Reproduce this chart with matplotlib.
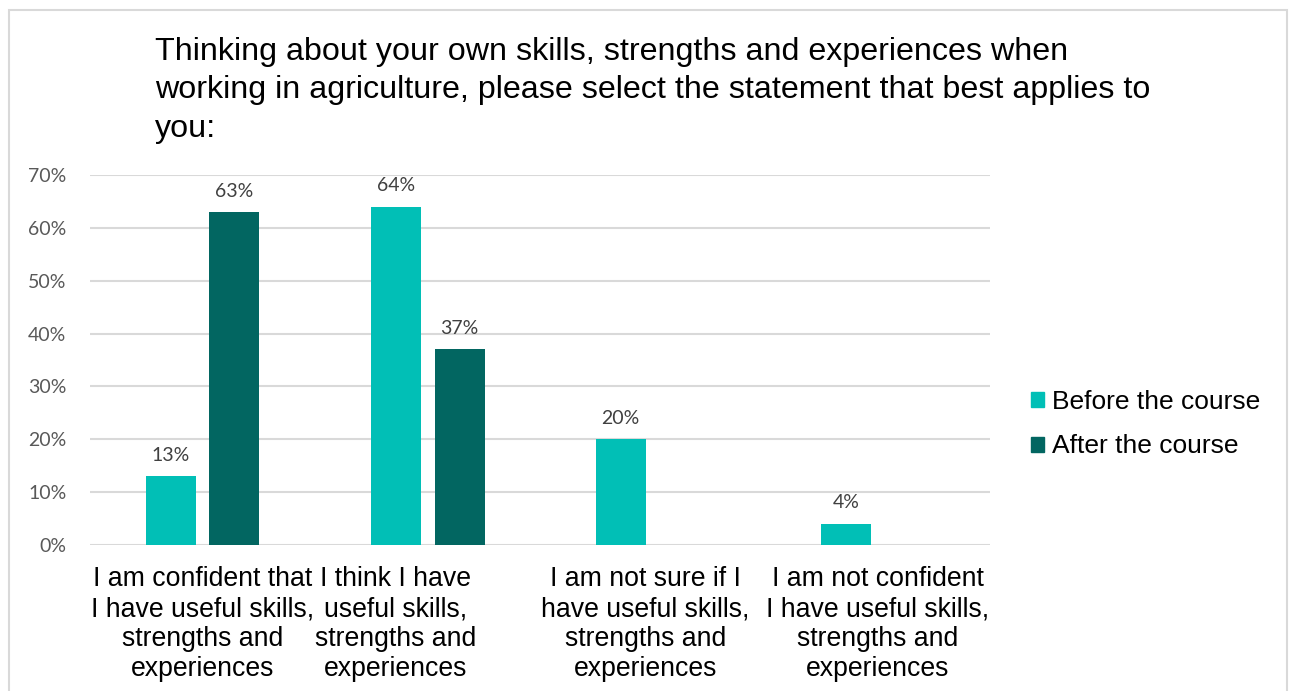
import matplotlib.pyplot as plt
import matplotlib.transforms as mtransforms
from matplotlib.patches import Patch, Rectangle
from matplotlib.ticker import PercentFormatter

# --- Survey data ---
categories = [
    "I am confident that\nI have useful skills,\nstrengths and\nexperiences",
    "I think I have\nuseful skills,\nstrengths and\nexperiences",
    "I am not sure if I\nhave useful skills,\nstrengths and\nexperiences",
    "I am not confident\nI have useful skills,\nstrengths and\nexperiences",
]
before = [13, 64, 20, 4]
after = [63, 37, 0, 0]
series_names = ["Before the course", "After the course"]
title = ("Thinking about your own skills, strengths and experiences when\n"
         "working in agriculture, please select the statement that best applies to\n"
         "you:")

# --- Style ---
BEFORE_COLOR = "#01BFB6"
AFTER_COLOR = "#026661"
GRID_COLOR = "#D9D9D9"
NUM_FONT = ["Lato", "DejaVu Sans"]
TEXT_FONT = ["Liberation Sans", "DejaVu Sans"]
label_shift_pt = [0, -23, -5, 0]  # nudge wrapped category labels sideways

fig = plt.figure(figsize=(12.89, 6.91), dpi=100)
ax = fig.add_axes([0.0698, 0.2113, 0.6984, 0.5354])

bar_w = 0.222
offset = 0.142
xs = list(range(len(categories)))

b1 = ax.bar([x - offset for x in xs], before, width=bar_w, color=BEFORE_COLOR, zorder=3)
b2 = ax.bar([x + offset for x in xs], after, width=bar_w, color=AFTER_COLOR, zorder=3)

# value labels above the bars (skip empty ones)
for bars, vals in ((b1, before), (b2, after)):
    for rect, v in zip(bars, vals):
        if v == 0:
            continue
        ax.annotate(f"{v}%", (rect.get_x() + rect.get_width() / 2, v),
                    xytext=(0, 9), textcoords="offset points",
                    ha="center", va="bottom", fontsize=14,
                    family=NUM_FONT, color="#404040")

ax.set_xlim(-0.5, 3.5)
ax.set_ylim(0, 70)
ax.set_yticks(range(0, 71, 10))
ax.yaxis.set_major_formatter(PercentFormatter(decimals=0))
ax.grid(axis="y", color=GRID_COLOR, linewidth=1.5, zorder=0)
ax.set_axisbelow(True)
for s in ax.spines.values():
    s.set_visible(False)

ax.tick_params(axis="y", length=0, pad=17, labelsize=14, labelcolor="#595959")
for lbl in ax.get_yticklabels():
    lbl.set_family(NUM_FONT)

ax.set_xticks(xs)
ax.set_xticklabels(categories, fontsize=19.2, family=TEXT_FONT, color="black",
                   linespacing=1.21)
ax.tick_params(axis="x", length=0, pad=15)
for lbl, dx in zip(ax.get_xticklabels(), label_shift_pt):
    lbl.set_transform(lbl.get_transform() +
                      mtransforms.ScaledTranslation(dx / 72, 0, fig.dpi_scale_trans))

fig.text(155 / 1289, 1 - 37 / 691, title, ha="left", va="top",
         fontsize=23.2, family=TEXT_FONT, color="black", linespacing=1.36)

handles = [Patch(color=BEFORE_COLOR), Patch(color=AFTER_COLOR)]
fig.legend(handles, series_names, loc="center left",
           bbox_to_anchor=(1031 / 1289, 1 - 424 / 691), frameon=False,
           prop={"family": TEXT_FONT, "size": 19},
           handlelength=0.5, handleheight=0.5, handletextpad=0.3,
           labelspacing=0.79, borderaxespad=0, borderpad=0)

# light chart-area border
fig.patches.append(Rectangle((9 / 1289, -0.05), 1278 / 1289, 1.05 - 10 / 691,
                             transform=fig.transFigure, fill=False,
                             edgecolor=GRID_COLOR, linewidth=1.5))

fig.savefig("out.png", dpi=100)
